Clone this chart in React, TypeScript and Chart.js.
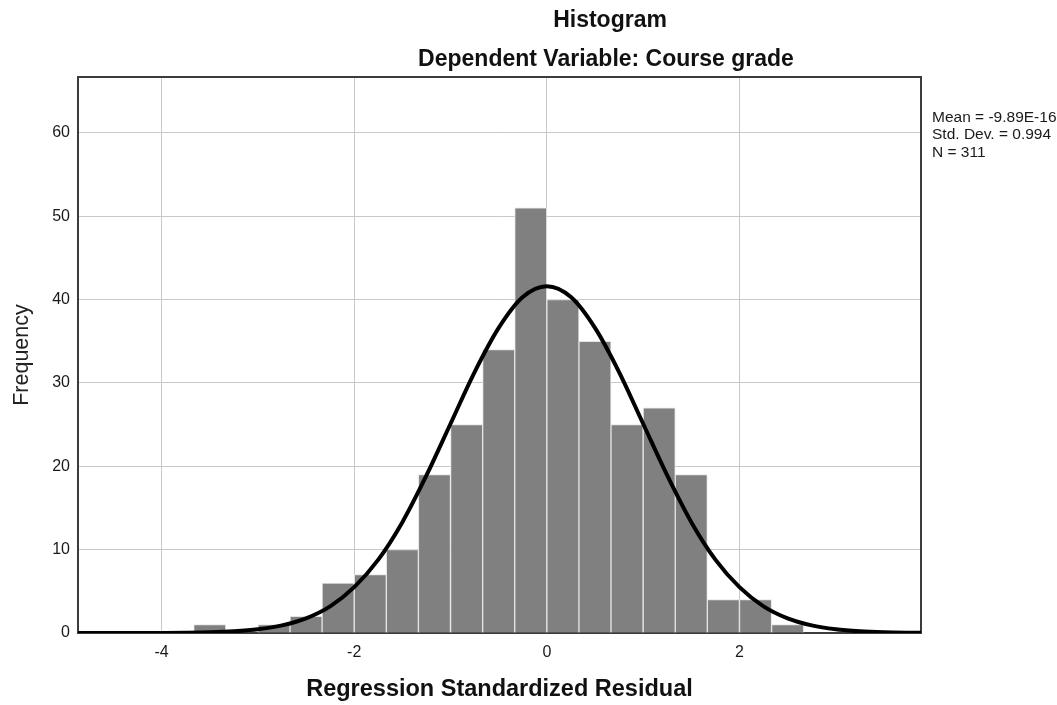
import React, { useEffect, useRef } from "react";
import { Chart, registerables } from "chart.js";

Chart.register(...registerables);

// Histogram bins (centre of each 1/3-wide bin) and their counts
const binCenters = [-3.5, -2.833, -2.5, -2.167, -1.833, -1.5, -1.167, -0.833, -0.5, -0.167, 0.167, 0.5, 0.833, 1.167, 1.5, 1.833, 2.167, 2.5];
const frequencies = [1, 1, 2, 6, 7, 10, 19, 25, 34, 51, 40, 35, 25, 27, 19, 4, 4, 1];

// Normal curve
const curveX = [-4.87, -4.5, -4.25, -4, -3.75, -3.5, -3.25, -3, -2.75, -2.5, -2.25, -2, -1.75, -1.5, -1.25, -1, -0.75, -0.5, -0.25, 0, 0.25, 0.5, 0.75, 1, 1.25, 1.5, 1.75, 2, 2.25, 2.5, 2.75, 3, 3.25, 3.5, 3.75, 3.89];
const curveY = [0, 0, 0, 0.01, 0.03, 0.08, 0.2, 0.44, 0.91, 1.76, 3.2, 5.5, 8.8, 13.3, 18.9, 25.1, 31.3, 36.6, 40.3, 41.6, 40.3, 36.6, 31.3, 25.1, 18.9, 13.3, 8.8, 5.5, 3.2, 1.76, 0.91, 0.44, 0.2, 0.08, 0.03, 0.02];

const xTicks = [-4, -2, 0, 2];
const yTicks = [0, 10, 20, 30, 40, 50, 60];

const titleText = "Histogram";
const subtitleText = "Dependent Variable: Course grade";
const xTitle = "Regression Standardized Residual";
const yTitle = "Frequency";
const statsLines = ["Mean = -9.89E-16", "Std. Dev. = 0.994", "N = 311"];

const FONT = "'Liberation Sans', Arial, Helvetica, sans-serif";

const decor = {
  id: "decor",
  beforeDatasetsDraw(chart: any) {
    const { ctx, chartArea } = chart;
    ctx.save();
    ctx.strokeStyle = "#3c3c3c";
    ctx.lineWidth = 2;
    ctx.strokeRect(chartArea.left, chartArea.top, chartArea.right - chartArea.left, chartArea.bottom - chartArea.top);
    ctx.restore();
  },
  afterDraw(chart: any) {
    const { ctx } = chart;
    ctx.save();
    ctx.fillStyle = "#111";
    ctx.textBaseline = "alphabetic";
    ctx.textAlign = "center";
    ctx.font = `bold 23px ${FONT}`;
    ctx.fillText(titleText, 610, 27);
    ctx.fillText(subtitleText, 606, 66);
    ctx.textAlign = "left";
    ctx.font = `15.5px ${FONT}`;
    ctx.fillStyle = "#1a1a1a";
    statsLines.forEach((line, i) => {
      ctx.fillText(line, 932, 121.5 + i * 17.5);
    });
    ctx.restore();
  },
};

export default function App() {
  const canvasRef = useRef<HTMLCanvasElement | null>(null);

  useEffect(() => {
    if (!canvasRef.current) return;
    const chart = new Chart(canvasRef.current, {
      type: "bar",
      data: {
        datasets: [
          {
            type: "line",
            data: curveX.map((x, i) => ({ x, y: curveY[i] })),
            borderColor: "#000",
            borderWidth: 4,
            pointRadius: 0,
            fill: false,
            cubicInterpolationMode: "monotone",
            order: 0,
          } as any,
          {
            type: "bar",
            data: binCenters.map((x, i) => ({ x, y: frequencies[i] })),
            backgroundColor: "#808080",
            borderColor: "#e4e4e4",
            borderWidth: 1,
            barPercentage: 1,
            categoryPercentage: 1,
            order: 1,
          } as any,
        ],
      },
      options: {
        animation: false,
        responsive: false,
        devicePixelRatio: 1,
        layout: { padding: { top: 77, right: 136, left: 0, bottom: 0 } },
        plugins: {
          legend: { display: false },
          tooltip: { enabled: false },
          title: { display: false },
        },
        scales: {
          x: {
            type: "linear",
            min: -4.868,
            max: 3.885,
            offset: false,
            grid: { offset: false, color: "#c8c8c8", lineWidth: 1, drawTicks: false },
            border: { display: false },
            afterBuildTicks: (s: any) => {
              s.ticks = xTicks.map((v) => ({ value: v }));
            },
            afterFit: (s: any) => {
              s.height = 72;
            },
            ticks: {
              autoSkip: false,
              maxRotation: 0,
              padding: 10,
              color: "#1a1a1a",
              font: { family: FONT, size: 16 },
            },
            title: {
              display: true,
              text: xTitle,
              color: "#111",
              font: { family: FONT, size: 23.5, weight: "bold" },
              padding: { top: 0, bottom: 1 },
            },
          },
          y: {
            type: "linear",
            min: 0,
            max: 66.7,
            grid: { color: "#c8c8c8", lineWidth: 1, drawTicks: false },
            border: { display: false },
            afterBuildTicks: (s: any) => {
              s.ticks = yTicks.map((v) => ({ value: v }));
            },
            afterFit: (s: any) => {
              s.width = 78;
            },
            ticks: {
              padding: 8,
              color: "#1a1a1a",
              font: { family: FONT, size: 16 },
            },
            title: {
              display: true,
              text: yTitle,
              color: "#222",
              font: { family: FONT, size: 21.5, weight: "normal" },
              padding: { top: 9, bottom: 0 },
            },
          },
        },
      } as any,
      plugins: [decor],
    });
    return () => chart.destroy();
  }, []);

  return (
    <div style={{ position: "absolute", left: 0, top: 0, width: 1057, height: 705, background: "#fff" }}>
      <canvas ref={canvasRef} width={1057} height={705} style={{ display: "block", width: 1057, height: 705 }} />
    </div>
  );
}
